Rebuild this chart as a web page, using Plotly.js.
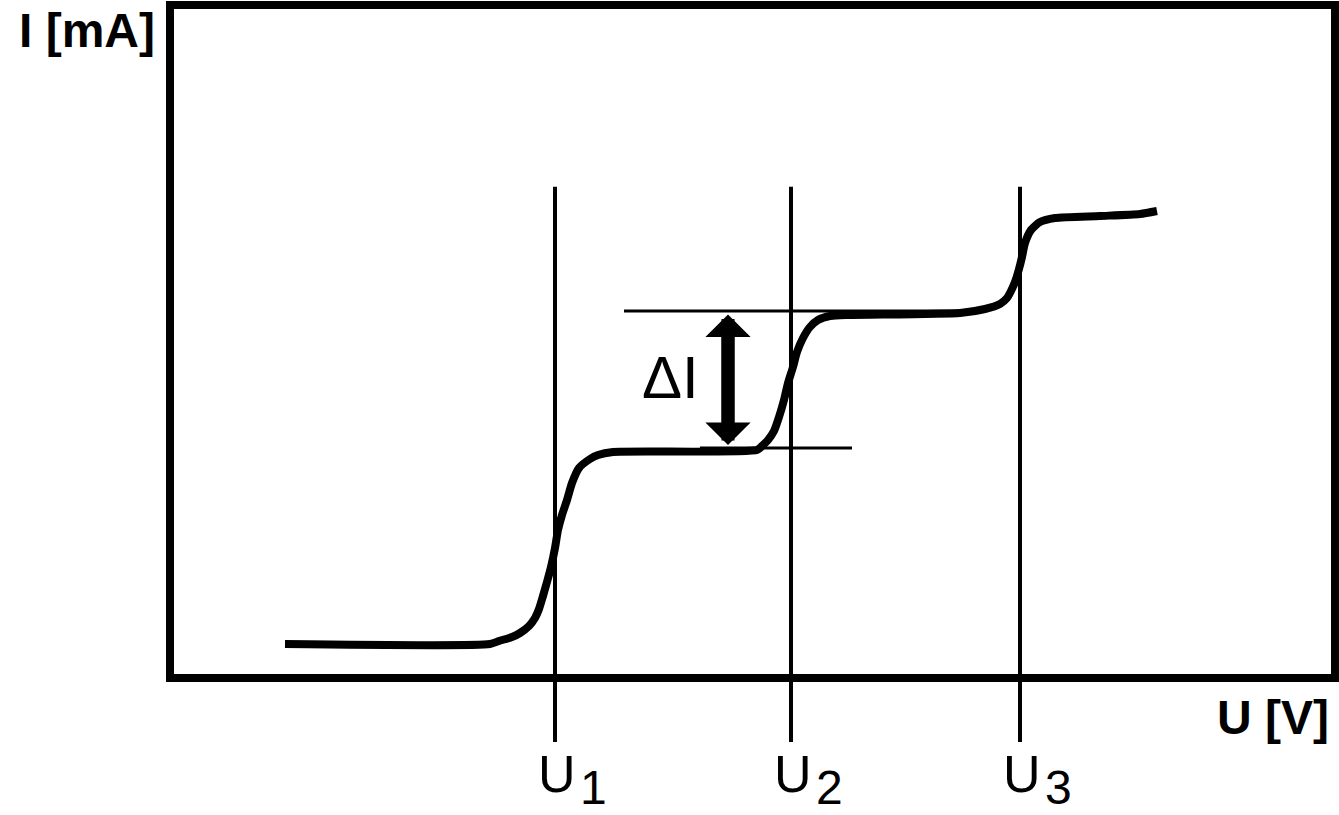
<!DOCTYPE html>
<html>
<head>
<meta charset="utf-8">
<script src="https://cdn.plot.ly/plotly-3.0.1.min.js"></script>
<style>
  html, body { margin: 0; padding: 0; background: white; }
  #chart { width: 1339px; height: 815px; }
</style>
</head>
<body>
<div id="chart"></div>
<script>
// U in V, I in mA (arbitrary units)
const voltage = [
  1.15, 3.20, 3.29, 3.42, 3.50, 3.59, 3.65, 3.69, 3.73, 3.77, 3.81, 3.85, 3.88, 3.92,
  3.97, 4.02, 4.09, 4.20, 4.28, 4.43,
  5.87, 5.92, 5.98, 6.04, 6.09, 6.14, 6.18, 6.23, 6.27, 6.33, 6.40, 6.48, 6.60, 6.80,
  7.90, 8.15, 8.30, 8.37, 8.41, 8.45, 8.49, 8.52, 8.55, 8.61, 8.70, 8.85, 9.30, 9.70, 9.87
];
const current = [
  0.34, 0.34, 0.37, 0.41, 0.45, 0.52, 0.60, 0.69, 0.82, 0.96, 1.11, 1.30, 1.48, 1.63,
  1.78, 1.95, 2.10, 2.19, 2.23, 2.26,
  2.28, 2.32, 2.38, 2.47, 2.61, 2.78, 2.95, 3.11, 3.26, 3.40, 3.51, 3.58, 3.62, 3.63,
  3.65, 3.69, 3.74, 3.80, 3.87, 3.96, 4.09, 4.21, 4.35, 4.48, 4.56, 4.60, 4.62, 4.64, 4.67
];

const uLevels = [3.85, 6.21, 8.50];
const uIndex = ["1", "2", "3"];

// delta I helper lines: level, start, end
const deltaLevels = [3.67, 2.30];
const deltaFrom = [4.54, 5.30];
const deltaTo = [8.15, 6.82];
const arrowX = 5.58;
const arrowEnds = [3.65, 2.33];

const xRange = [0, 11.65];
const yRange = [0, 6.73];

const fontFamily = '"Liberation Sans", Arial, sans-serif';

const shapes = [
  {
    type: "rect", xref: "paper", yref: "paper",
    x0: 0, x1: 1, y0: 0, y1: 1,
    line: { color: "black", width: 8 }
  }
];

uLevels.forEach((u) => {
  shapes.push({
    type: "line", xref: "x", yref: "paper",
    x0: u, x1: u, y0: -0.095, y1: 0.73,
    line: { color: "black", width: 4 }
  });
});

deltaLevels.forEach((lvl, i) => {
  shapes.push({
    type: "line", xref: "x", yref: "y",
    x0: deltaFrom[i], x1: deltaTo[i], y0: lvl, y1: lvl,
    line: { color: "black", width: 3 }
  });
});

// shaft of the delta I arrow
shapes.push({
  type: "line", xref: "x", yref: "y",
  x0: arrowX, x1: arrowX, y0: arrowEnds[1] + 0.15, y1: arrowEnds[0] - 0.15,
  line: { color: "black", width: 13 }
});

const annotations = [
  {
    text: "I [mA]", xref: "paper", yref: "paper",
    x: -0.131, y: 0.962, xanchor: "left", yanchor: "middle",
    showarrow: false,
    font: { family: fontFamily, size: 48, color: "black", weight: "bold" }
  },
  {
    text: "U [V]", xref: "paper", yref: "paper",
    x: 0.9966, y: -0.059, xanchor: "right", yanchor: "middle",
    showarrow: false,
    font: { family: fontFamily, size: 48, color: "black", weight: "bold" }
  },
  {
    text: "ΔI", xref: "x", yref: "y",
    x: 5.0, y: 3.01, xanchor: "center", yanchor: "middle",
    showarrow: false,
    font: { family: fontFamily, size: 60, color: "black" }
  },
  {
    // double headed arrow between the two current levels
    text: "", xref: "x", yref: "y", axref: "x", ayref: "y",
    x: arrowX, y: arrowEnds[1], ax: arrowX, ay: arrowEnds[0],
    showarrow: true, arrowside: "end+start",
    arrowhead: 1, startarrowhead: 1,
    arrowsize: 0.58, startarrowsize: 0.58, arrowwidth: 13,
    arrowcolor: "black", standoff: 0, startstandoff: 0
  }
];

uLevels.forEach((u, i) => {
  annotations.push({
    text: "U", xref: "x", yref: "paper",
    x: u, y: -0.1426, xanchor: "center", yanchor: "middle", xshift: 2,
    showarrow: false,
    font: { family: fontFamily, size: 52, color: "black" }
  });
  annotations.push({
    text: uIndex[i], xref: "x", yref: "paper",
    x: u, y: -0.162, xanchor: "center", yanchor: "middle", xshift: 38,
    showarrow: false,
    font: { family: fontFamily, size: 48, color: "black" }
  });
});

Plotly.newPlot(
  "chart",
  [
    {
      x: voltage,
      y: current,
      type: "scatter",
      mode: "lines",
      line: { color: "black", width: 8, shape: "spline", smoothing: 0.6 },
      hoverinfo: "skip"
    }
  ],
  {
    width: 1339,
    height: 815,
    margin: { l: 170, r: 4, t: 5, b: 137, pad: 0 },
    paper_bgcolor: "white",
    plot_bgcolor: "white",
    showlegend: false,
    xaxis: { range: xRange, visible: false, fixedrange: true },
    yaxis: { range: yRange, visible: false, fixedrange: true },
    shapes,
    annotations
  },
  { displayModeBar: false, staticPlot: true }
);
</script>
</body>
</html>
